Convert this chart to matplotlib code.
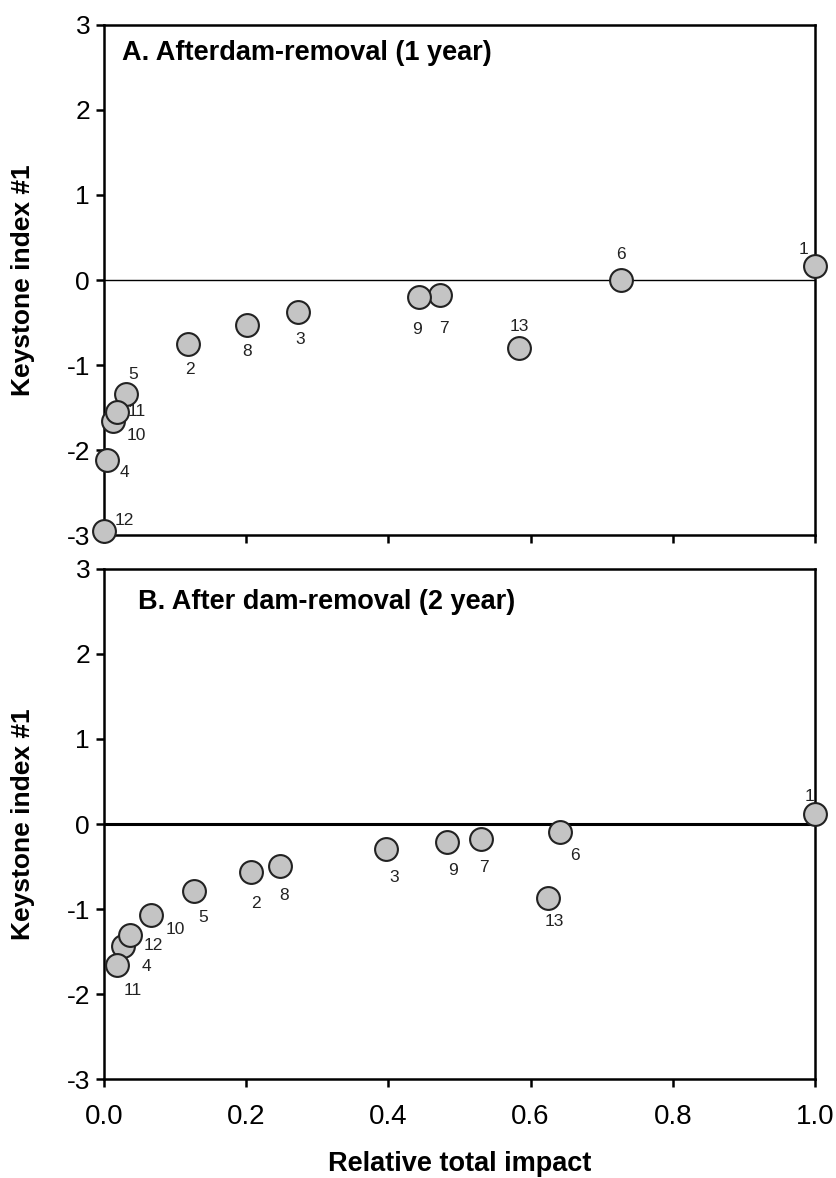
import matplotlib.pyplot as plt

plt.rcParams['font.family'] = ['Liberation Sans', 'DejaVu Sans']
plt.rcParams['axes.unicode_minus'] = False

# panel A: after dam removal, 1 year
ids_a = ['1', '2', '3', '4', '5', '6', '7', '8', '9', '10', '11', '12', '13']
x_a = [1.0, 0.118, 0.273, 0.004, 0.031, 0.727, 0.473, 0.201, 0.443, 0.013, 0.018, 0.0, 0.584]
y_a = [0.17, -0.75, -0.38, -2.12, -1.34, 0.0, -0.18, -0.53, -0.20, -1.66, -1.55, -2.95, -0.80]
# label offsets in pixels (dx, dy)
off_a = [(-12, 16), (2, -26), (2, -27), (18, -12), (7, 19), (0, 26), (4, -33),
         (0, -26), (-2, -32), (23, -14), (20, 0), (20, 10), (0, 22)]

# panel B: after dam removal, 2 year
ids_b = ['1', '2', '3', '4', '5', '6', '7', '8', '9', '10', '11', '12', '13']
x_b = [1.0, 0.207, 0.397, 0.027, 0.127, 0.641, 0.530, 0.248, 0.483, 0.066, 0.018, 0.037, 0.624]
y_b = [0.12, -0.57, -0.29, -1.43, -0.79, -0.09, -0.18, -0.49, -0.21, -1.07, -1.66, -1.31, -0.87]
off_b = [(-6, 17), (5, -31), (8, -29), (23, -21), (9, -26), (15, -24), (3, -28),
         (4, -30), (6, -29), (24, -15), (16, -25), (23, -10), (7, -24)]

fig = plt.figure(figsize=(8.36, 11.78), dpi=100)
ax_a = fig.add_axes([0.1244, 0.5458, 0.8505, 0.433])
ax_b = fig.add_axes([0.1244, 0.0840, 0.8505, 0.433])

panels = [
    (ax_a, x_a, y_a, ids_a, off_a, 'A. Afterdam-removal (1 year)', (0.025, 0.945), 1.0),
    (ax_b, x_b, y_b, ids_b, off_b, 'B. After dam-removal (2 year)', (0.048, 0.935), 2.2),
]

for ax, xs, ys, ids, offs, title, tpos, zlw in panels:
    ax.set_xlim(0, 1.0)
    ax.set_ylim(-3, 3)
    ax.axhline(0, color='black', lw=zlw, zorder=1)
    ax.scatter(xs, ys, s=270, facecolor='#c4c4c4', edgecolor='#222222',
               linewidths=1.5, zorder=3, clip_on=False)
    for xv, yv, lab, (dx, dy) in zip(xs, ys, ids, offs):
        ax.annotate(lab, (xv, yv), xytext=(dx, dy), textcoords='offset pixels',
                    ha='center', va='center', fontsize=12.5, color='#222222')
    ax.text(tpos[0], tpos[1], title, transform=ax.transAxes, fontsize=19.5,
            fontweight='bold', ha='left', va='center')
    ax.set_yticks([-3, -2, -1, 0, 1, 2, 3])
    ax.set_xticks([0, 0.2, 0.4, 0.6, 0.8, 1.0])
    ax.tick_params(direction='out', length=6, width=1.8, labelsize=19, pad=4)
    for sp in ax.spines.values():
        sp.set_linewidth(1.8)
    ax.set_ylabel('Keystone index #1', fontsize=19, fontweight='bold')
    ax.yaxis.set_label_coords(-0.097, 0.5)

ax_a.tick_params(axis='x', labelbottom=False)
ax_b.set_xticklabels(['0.0', '0.2', '0.4', '0.6', '0.8', '1.0'])
ax_b.tick_params(axis='x', labelsize=20, pad=12)
ax_b.set_xlabel('Relative total impact', fontsize=19.5, fontweight='bold', labelpad=15)

fig.savefig('out.png', dpi=100)
